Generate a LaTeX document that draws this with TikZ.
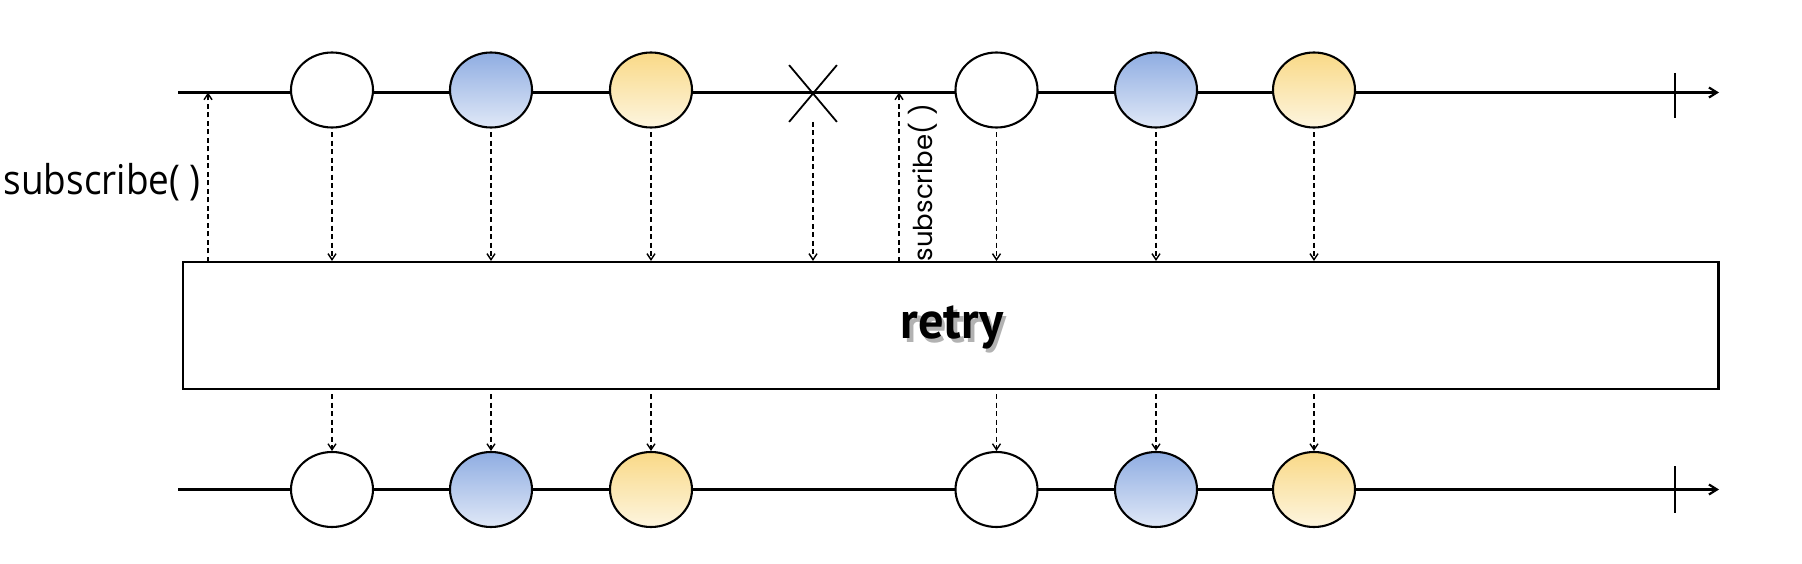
\documentclass[tikz,border=0pt]{standalone}
\usepackage{fontspec}
\setmainfont{Open Sans}
\newfontfamily\subfont[FakeStretch=0.9]{Open Sans}
\newfontfamily\rotfont{Poppins}
\newfontfamily\opfont[FakeStretch=0.97]{PT Sans}
\usetikzlibrary{arrows.meta,shapes.geometric,shapes.misc}
\definecolor{bluetop}{HTML}{8FADE2}
\definecolor{bluebot}{HTML}{E0E8F7}
\definecolor{yeltop}{HTML}{F9D987}
\definecolor{yelbot}{HTML}{FDF5DF}
\tikzset{
  timeline/.style={line width=2.3pt,-{Straight Barb[length=8pt,width=10pt,line width=2.2pt]}},
  marble/.style={ellipse,draw,line width=2.1pt,minimum width=82pt,minimum height=75pt,inner sep=0pt},
  whitem/.style={marble,fill=white},
  bluem/.style={marble,top color=bluetop,bottom color=bluebot},
  yelm/.style={marble,top color=yeltop,bottom color=yelbot},
  flow/.style={line width=1.6pt,dash pattern=on 5pt off 3.5pt,-{Straight Barb[length=6pt,width=8pt,line width=1.4pt]}},
  tickmark/.style={line width=2pt},
  opbox/.style={draw,line width=2.2pt,rectangle,minimum width=1535.5pt,minimum height=127pt,inner sep=0pt},
}
\begin{document}
\begin{tikzpicture}[x=1pt,y=-1pt]
\useasboundingbox (0,0) rectangle (1802,564);
% timelines
\coordinate (ts) at (178,92.5);
\coordinate (te) at (1719,92.5);
\coordinate (bs) at (178,489.5);
\coordinate (be) at (1719,489.5);
\draw[timeline] (ts) -- (te);
\draw[timeline] (bs) -- (be);
% ticks
\coordinate (k1a) at (1675,73); \coordinate (k1b) at (1675,118);
\coordinate (k2a) at (1675,466); \coordinate (k2b) at (1675,513);
\draw[tickmark] (k1a) -- (k1b);
\draw[tickmark] (k2a) -- (k2b);
% operator box
\node[opbox] (box) at (950.75,325.5) {};
\node[font=\opfont\bfseries\fontsize{52}{52}\selectfont,text=black!30,anchor=base,inner sep=0pt] (shadow) at (955.5,342) {retry};
\node[font=\opfont\bfseries\fontsize{52}{52}\selectfont,anchor=base,inner sep=0pt] (label) at (952,338.5) {retry};
% top marbles
\node[whitem] (t1) at (332,90) {};
\node[bluem]  (t2) at (491,90) {};
\node[yelm]   (t3) at (651,90) {};
\node[draw,cross out,line width=1.8pt,minimum width=46pt,minimum height=55pt,inner sep=0pt] (x1) at (813,93.5) {};
\node[whitem] (t4) at (996.5,90) {};
\node[bluem]  (t5) at (1156,90) {};
\node[yelm]   (t6) at (1314,90) {};
% bottom marbles
\node[whitem] (b1) at (332,489.5) {};
\node[bluem]  (b2) at (491,489.5) {};
\node[yelm]   (b3) at (651,489.5) {};
\node[whitem] (b4) at (996.5,489.5) {};
\node[bluem]  (b5) at (1156,489.5) {};
\node[yelm]   (b6) at (1314,489.5) {};
% flows into operator
\foreach \n in {t1,t2,t3,t4,t5,t6}{
  \draw[flow,shorten <=3.5pt] (\n.south) -- (\n.south |- box.north);
}
\draw[flow] (x1.south) -- (x1.south |- box.north);
% flows out of operator
\foreach \n/\m in {t1/b1,t2/b2,t3/b3,t4/b4,t5/b5,t6/b6}{
  \draw[flow,shorten <=4pt] (\n.south |- box.south) -- (\m.north);
}
% subscribe arrows
\coordinate (s1b) at (208,262); \coordinate (s1t) at (208,92.5);
\coordinate (s2b) at (899,262); \coordinate (s2t) at (899,92.5);
\draw[flow] (s1b) -- (s1t);
\draw[flow] (s2b) -- (s2t);
\node[font=\subfont\fontsize{41}{41}\selectfont,anchor=base east,inner sep=0pt] (sub1) at (201,195) {subscribe( )};
\node[font=\rotfont\fontsize{26}{26}\selectfont,rotate=90,anchor=base,inner sep=0pt] (sub2) at (932,182.5) {subscribe( )};
\end{tikzpicture}
\end{document}
